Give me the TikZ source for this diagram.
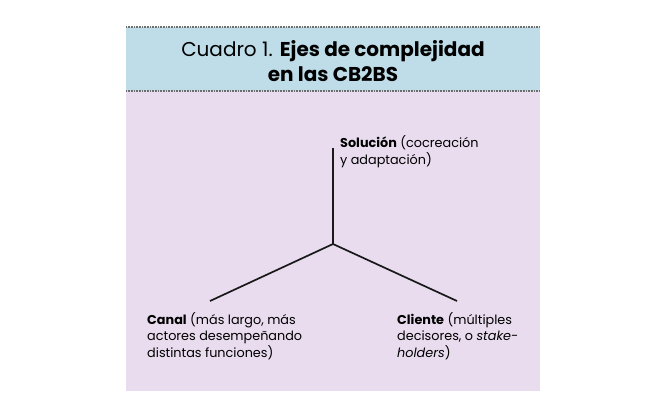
\documentclass[tikz,border=0pt]{standalone}
\usepackage{fontspec}
\setmainfont{Poppins}
\usetikzlibrary{positioning}
\definecolor{headblue}{HTML}{BEDDE9}
\definecolor{panelpink}{HTML}{E8DCEE}
\definecolor{dotgrey}{HTML}{6E6E6E}

\begin{document}
\begin{tikzpicture}[x=1pt,y=-1pt,
   axis/.style={line width=1.7pt,black!90},
   lab/.style={anchor=base west,align=left,font=\fontsize{12.8}{16.2}\selectfont,inner sep=0pt},
   sep/.style={dotgrey,line width=1.6pt,dash pattern=on 0.8pt off 0.8pt}]
  \useasboundingbox (0,0) rectangle (665,413);
  \fill[headblue] (126,27) rectangle (540,91);
  \fill[panelpink] (126,91) rectangle (540,391);
  \draw[sep] (126,27) -- (540,27);
  \draw[sep] (126,91) -- (540,91);
  \node[anchor=base,align=center,inner sep=0pt,font=\fontsize{20}{25}\selectfont] (title) at (333,81)
    {{\fontseries{l}\selectfont Cuadro 1.} \textbf{Ejes de complejidad}\\\textbf{en las CB2BS}};
  \coordinate (c) at (333,244);
  \coordinate (s) at (333,148);
  \coordinate (k) at (210,301);
  \coordinate (l) at (457,301);
  \draw[axis] (s) -- (c) -- (k);
  \draw[axis] (c) -- (l);
  \node[lab] (sol) at (340,164) {\textbf{Solución} (cocreación\\y adaptación)};
  \node[lab] (can) at (147,357) {\textbf{Canal} (más largo, más\\actores desempeñando\\distintas funciones)};
  \node[lab] (cli) at (397,357) {\textbf{Cliente} (múltiples\\decisores, o \textit{stake-}\\\textit{holders})};
\end{tikzpicture}
\end{document}
